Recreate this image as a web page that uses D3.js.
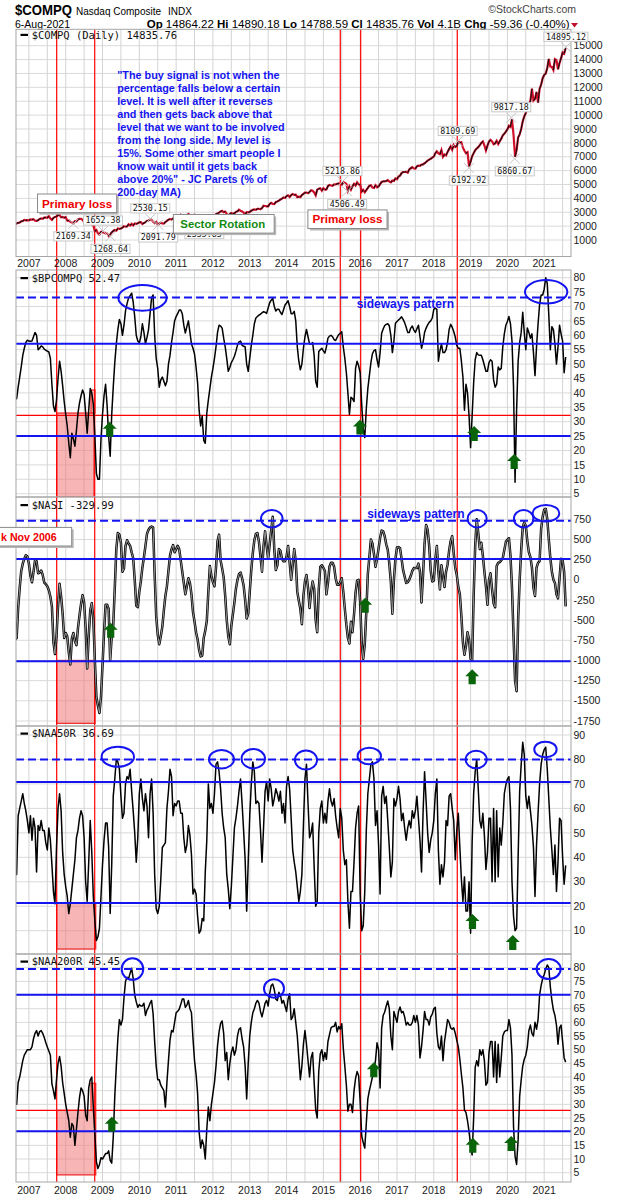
<!DOCTYPE html>
<html>
<head>
<meta charset="utf-8">
<title>$COMPQ Nasdaq Composite breadth</title>
<script src="https://cdn.jsdelivr.net/npm/d3@7"></script>
<style>
  body { margin: 0; background: #fff; }
  svg { display: block; }
</style>
</head>
<body>
<div id="chart"></div>
<script>
// One value every half month: first point 16 Aug 2006, last point 1 Aug 2021 (= 6 Aug close)
const firstYear = 2006.625
const stepsPerYear = 24

const compq = [
  2150,2185,2235,2260,2345,2365,2445,2415,2430,
  2415,2480,2470,2495,2390,2380,2420,2520,2550,2530,2615,2625,2605,2710,2550,2450,2600,2650,2700,2780,2800,2640,2660,2600,
  2650,2400,2410,2320,2270,2200,2360,2350,2480,2530,2520,2450,2290,2240,2330,2450,2350,2100,2060,1630,1720,1480,1400,1590,
  1600,1530,1480,1470,1290,1400,1550,1650,1720,1680,1830,1800,1830,1890,1990,1960,1970,2130,2050,2160,2050,2190,2160,2210,
  2270,2290,2150,2230,2270,2380,2400,2480,2460,2320,2220,2300,2100,2180,2250,2200,2180,2300,2380,2470,2510,2470,2550,2640,
  2650,2760,2750,2830,2740,2620,2790,2760,2870,2790,2770,2630,2820,2780,2740,2530,2550,2620,2420,2670,2600,2590,2620,2550,
  2610,2720,2860,2920,2970,3060,3100,3000,3050,2880,2750,2870,2950,2900,2920,3030,3070,3180,3110,3060,2980,2840,3010,2990,
  3020,3110,3180,3200,3170,3250,3250,3220,3300,3470,3450,3420,3420,3600,3680,3600,3590,3740,3780,3840,3920,3980,4060,4030,
  4160,4220,4100,4240,4310,4250,4270,4090,4120,4090,4240,4320,4410,4420,4370,4460,4580,4550,4430,4220,4630,4690,4730,4550,
  4730,4630,4640,4890,4960,4930,4900,5010,5000,5050,5080,5030,4990,5160,5130,5050,4550,4860,4630,4870,5050,4930,5150,5000,
  5000,4490,4610,4440,4600,4760,4910,4940,4780,4750,4950,4800,4860,5030,5180,5230,5230,5250,5310,5210,5150,5280,5250,5440,
  5380,5570,5640,5820,5900,5900,5910,5850,6090,6170,6250,6150,6140,6310,6360,6340,6430,6450,6530,6620,6720,6790,6850,6940,
  7010,7250,7390,7240,7180,7480,7000,7160,7100,7350,7550,7750,7510,7850,7700,7770,8100,8010,8040,7650,7430,7250,7330,6300,
  6640,7030,7260,7470,7590,7690,7830,8000,8100,7820,7450,7800,8090,8220,8110,7900,7960,8150,7910,8120,8300,8540,8660,8810,
  8970,9230,9150,9700,8570,7000,7480,8390,8610,9000,9550,9900,10150,10550,10750,11020,11900,11050,11170,11670,10900,11900,12200,12660,
  12890,12990,13400,14050,13500,13470,13250,14030,13960,13300,13750,14100,14520,14430,14836
]

const bpcompq = [
  38,38,42,45.5,49,53,55.5,57.5,58.3,58,57.9,58,59.5,61,60,55,55.5,56.3,56,55.2,54.8,54.5,54.2,52,
  43,35.5,33.5,37.5,45,51,47.5,42.5,37,32.5,28.5,22.5,17.5,26,24,21.5,27,33,36.5,39,41,39.5,33,26,
  34,41.5,40,36,25,12,10,10,24,32.5,39,43,35.5,25,18,32.5,42,50.5,57,62,65.5,64,60,63.5,
  68.5,71,73,73.8,74.6,71.5,66.5,60,58,57.4,59.5,64,61,57,59.3,62,67.5,73,74,60,52,48.5,42,44.5,
  45.5,44,42.5,44,50,53,57.5,61,65,66.5,67.5,68.8,68.8,67.5,63.5,60.8,63,65,61,57,55.5,53.5,49,43.5,
  34,28.5,32,23.5,22.5,33,37.5,41.5,45.5,48.5,52,56,61,63.5,63.2,62.5,59,56,52,47.5,48.8,50.5,51.5,52.7,
  54.5,56.6,57.7,58,56.5,56.2,56,50,47.5,52,56.5,60,64,66,66.5,67,67.3,67.8,68.2,68,67.6,69.5,71.3,72.2,
  72.8,70,68.4,69,69,68,67.2,68.8,70.5,71.2,72,70,67.5,67.5,68.3,65,56,51,48,50,55.5,59.5,62,59.5,
  57,57,57.5,53,44,42,54.4,55,55.5,54.6,53.8,56,59,59.7,60,59.5,58.5,58.2,59.3,60.2,60.7,61.2,56,52,
  47,40,32.5,38.5,38,37,48.5,51,49.4,47,36,27.5,24.5,34.5,41.5,46,50.5,53.6,54.7,55,51.5,49,54,60.7,
  62.2,63.4,63.8,64,63.3,60,54,58,64.2,64.8,65.3,65.8,66.4,65.5,64.4,62.8,61,61,62.5,63.2,61.8,61,62.3,63.5,
  59.5,55.5,57.5,61,62.5,63.6,64.5,65,66,69,69.4,69,51,54.5,57,54,54,55,57.5,62,63.8,62.8,61.3,59.4,
  56.5,55.5,55.5,51,45.5,34,43,40,32,21,32,43.5,51.5,54,53.2,53.1,53.1,51.5,49.5,47.5,47.5,50.5,51.5,51,
  44.5,42,43,49,48,48.5,56,60.5,63.5,64.8,66.5,64,58,42,9,34,51,57.5,61,68,61,55,62.5,61,
  59,60.5,54,46,56,64,70.7,74,74,76,80,78,67,55,63,62,57,50,56,63.5,60.5,58,47,52.47
]

const nasi = [
  -740,-723,-350,-100,110,200,260,305,290,200,50,-30,100,240,230,80,90,115,60,-35,-55,-80,-130,-210,
  -330,-770,-920,-700,-330,-50,-210,-420,-720,-660,-700,-900,-1050,-730,-660,-760,-810,-600,-440,-300,-190,-280,-600,-1100,
  -700,-380,-290,-480,-1000,-1450,-1560,-1650,-1450,-1060,-650,-310,-310,-360,-1000,-700,-560,-100,380,580,560,460,100,140,
  420,490,450,420,340,270,0,-320,-340,-150,-20,150,280,420,570,620,650,660,650,60,-450,-680,-800,-700,
  -580,-380,-200,-80,110,300,380,430,340,380,420,380,240,100,-40,-180,-80,20,-40,-180,-400,-520,-650,-740,
  -870,-950,-940,-720,-630,-510,-150,170,50,-30,-80,150,480,560,240,140,30,-200,-500,-700,-800,-570,-430,-280,
  -110,0,70,90,20,-70,-250,-480,-420,-150,120,330,490,570,580,470,290,100,420,600,420,260,440,620,
  780,380,120,180,380,360,260,230,230,290,420,220,0,180,380,230,-150,-260,-360,-550,-200,-20,60,-100,
  -350,-150,-20,-110,-500,-650,-120,160,180,150,110,-180,-40,165,210,210,165,20,-62,-62,-30,20,-150,-360,
  -560,-720,-790,-520,-650,-430,-160,-10,0,-280,-780,-980,-800,-400,70,280,500,450,320,160,260,390,520,610,
  600,540,440,370,200,-20,-420,0,260,400,405,392,260,120,40,-40,-30,0,50,110,145,145,145,200,
  100,-280,60,450,680,620,420,110,-20,-10,250,420,100,-120,180,50,-90,100,190,360,480,540,330,150,
  60,-90,-180,-450,-780,-930,-820,-650,-740,-980,-1000,-200,420,750,580,380,460,300,100,-80,-310,0,80,-120,
  -290,-340,170,210,220,240,270,370,470,495,515,300,-100,-690,-1250,-1380,-500,0,370,650,710,670,480,340,
  280,150,-100,-200,150,210,230,630,780,870,880,750,500,270,100,0,-40,-180,-230,20,260,240,100,-329.99
]

const naa50r = [
  33,33,57,60,63,66,62,59,55,50,57,47,56,52,34,53,51,55,51,51,46,43,52,47,
  37,26,21,44,60,66,59,42,33,28,24,17,21,27,33,39,48,51,56,59,57,48,30,22,
  38,55,42,24,14,6,7.5,11,24,37,47,54,54,44,17,37,65,72,80,79,76,65,56,58,
  70,73,72,76,67,59,50,38,48,66,72,64,59,66,61,48,66,72,58,33,19,17,20,31,
  44,45,46,60,67,76,73,57,62,61,63,63,58,58,48,42,45,53,49,41,25,27,25,16,
  9,10,15,14,34,47,70,60,62,58,66,78,79,75,68,58,52,48,33,27,19,28,40,52,
  56,61,67,72,62,51,39,18,38,57,70,79,75,62,63,62,51,38,52,67,71,63,72,68,
  61,64,68,66,63,67,58,62,54,69,73,68,56,43,38,34,28,22,26,33,53,72,78,62,
  48,50,54,36,20,22,50,60,63,54,58,54,63,68,63,61,64,57,52,48,60,56,43,37,
  39,22,11,26,26,38,52,58,61,25,10,12,26,51,66,72,78,79,72,53,59,45,25,65,
  69,62,65,55,44,32,38,64,61,64,69,64,55,58,52,47,52,55,52,59,56,59,65,56,
  47,34,58,75,63,50,42,47,50,55,66,72,43,29,37,32,38,55,53,65,66,60,55,39,
  51,58,44,31,22,32,18,18,30,9,46,66,75,80,68,55,52,58,49,35,42,56,56,30,
  60,30,59,32,52,45,54,66,69.6,72,73,60,30,16,10,11,40,67,78,87,82,65,60,65,
  59,53,44,24,45,58,70,78,82,84,85,76,64,52,43,33,45,26,38,56,55,40,29,36.69
]

const naa200r = [
  30,30,38,40,43,46,48,49,50,50,50,51,54,56,57,55,56.6,57,56,54.5,52.6,51,49.5,48,
  37.5,35,32,39,45,47.5,44,38,34,30,27,24,18,23,22,15,21,27,32.5,36,35,33,26,24,
  36,39,40,29,19,9,6.5,8,10.5,10,11,12,12,13,9.5,8.5,18,33,44,54,61,59,61,69,
  75,76.5,76,78,79.8,76,70,67.5,65.5,66.5,66,66,67,62.5,64.5,65.5,67,68,63,53,44,39,39,37,
  36,35,29,38,46,53.5,57,56.5,60,63.5,64,64.8,66.5,68.5,68.5,65.5,66.3,68,65,63.5,54,46,41,34,
  20,14,17,15,10,21,29,24,30,34,38,44,51.5,56.5,59.6,60.5,56,46,49,39,45,49,51,48,
  50,55,57.5,58,54,51,44,32,45,55,60,63.5,65,67,68,67,64,62,64.5,67,68,66,70.5,73.5,
  74,72,68.5,68,71,70,67,68,66,64,68.5,70.5,61,62,65,60,55,47,39,44,52,57,52,46,
  40,47,49,38,28,25,42,48.5,50,46,49,46.5,53,55.5,58,58.5,58.5,60,56.5,58.5,57.5,59.5,50.5,44,
  37,27.5,30,30,27,35,39.5,42,40.5,31,18.5,16,14,23,32,35,37.5,40,43,46,52.5,50,36,58,
  62.5,63.8,66,67.8,65,55,50,64,62,60,64,65.6,63.5,64,62,59,60,59,59,60,62.5,60,62.5,59,
  47,51,57,64,61,61,59,62,63,65,65.5,56,51,50,55,46,53,57,61,60,58,57.5,58,56,
  53.5,51,46.5,41,36,28,27,24,20,15,11.5,25,43.5,46,44,50,48,50,46,37,38,49,53,53,
  40,53,38,52,40,47,55,56.5,57,57,61,58,48,22,11,8,17,33,39,44,46.5,48,51,57,
  59,56,55,60,57.5,61,70,73.5,76,77.5,79.5,81,80,73,68,64.5,62.5,59,52,58,59,53,47,45.45
]

// Axes
const yearLabels = d3.range(2007, 2022)
const compqTicks = d3.range(1000, 15001, 1000)
const bpTicks = d3.range(5, 81, 5)
const nasiTicks = d3.range(-1750, 751, 250)
const naa50Ticks = d3.range(10, 91, 10)
const naa200Ticks = d3.range(5, 81, 5)

// Horizontal reference levels
const bpLevels = {dashed: [73.1], solid: [57.1, 25], red: [32.2]}
const nasiLevels = {dashed: [733], solid: [258, -1010], red: []}
const naa50Levels = {dashed: [80], solid: [70.8, 21.3], red: []}
const naa200Levels = {dashed: [79.5], solid: [70.1, 20.2], red: [27.8]}

// Vertical red lines (decimal years)
const markerYears = [2007.755, 2008.788, 2015.46, 2016.014, 2018.638]

// Shaded 2008 zones: [fromYear, toYear, fromValue, toValue]
const bpZones = [[2007.755, 2008.769, 3.85, 33], [2008.687, 2008.796, 33, 41]]
const nasiZones = [[2007.755, 2008.796, -1779, -1000]]
const naa50Zones = [[2007.755, 2008.815, 2.5, 21.3]]
const naa200Zones = [[2007.755, 2008.815, 4.2, 27.8], [2008.687, 2008.815, 27.8, 37.7]]

// Circled tops: [year, value, half width in years, half height in value units]
const bpRings = [[2010.086, 73.0, 0.657, 4.44], [2021.053, 75.1, 0.576, 4.06]]
const nasiRings = [[2013.599, 757, 0.293, 108], [2019.179, 757, 0.258, 108], [2020.442, 757, 0.264, 108], [2021.048, 824, 0.361, 103]]
const naa50Rings = [[2009.415, 81.1, 0.44, 4.09], [2012.232, 80.1, 0.34, 3.76], [2013.096, 80.3, 0.318, 3.97], [2014.528, 79.8, 0.30, 3.9],
  [2016.248, 81.4, 0.318, 3.39], [2019.152, 80.0, 0.285, 3.6], [2021.034, 84.1, 0.304, 3.19]]
const naa200Rings = [[2009.814, 79.5, 0.293, 3.95], [2013.659, 72.4, 0.272, 3.37], [2021.121, 79.5, 0.326, 3.66]]

// Green buy arrows: [year, value at the arrow tip]
const bpArrows = [[2009.195, 30.0], [2015.995, 30.8], [2019.097, 28.5], [2020.184, 18.8]]
const nasiArrows = [[2009.222, -532], [2016.136, -222], [2019.043, -1109]]
const naa50Arrows = [[2019.051, 16.8], [2020.146, 8.2]]
const naa200Arrows = [[2009.252, 25.5], [2016.37, 45.4], [2019.059, 17.8], [2020.102, 18.4]]

// Price highs / lows labelled on the $COMPQ panel
const compqMarks = [
  {year: 2008.206, value: 2169.34, low: true},
  {year: 2009.013, value: 1652.38, low: false},
  {year: 2009.217, value: 1268.64, low: true},
  {year: 2010.298, value: 2530.15, low: false},
  {year: 2010.515, value: 2091.79, low: true},
  {year: 2011.765, value: 2335.83, low: true},
  {year: 2015.519, value: 5218.86, low: false},
  {year: 2015.647, value: 4506.49, low: true},
  {year: 2018.649, value: 8109.69, low: false},
  {year: 2018.951, value: 6192.92, low: true},
  {year: 2020.105, value: 9817.18, low: false},
  {year: 2020.2, value: 6860.67, low: true},
  {year: 2021.59, value: 14895.12, low: false}
]

const quoteLines = [
  '"The buy signal is not when the',
  'percentage falls below a certain',
  'level. It is well after it reverses',
  'and then gets back above that',
  'level that we want to be involved',
  'from the long side. My level is',
  '15%. Some other smart people I',
  'know wait until it gets back',
  'above 20%" - JC Parets (% of',
  '200-day MA)'
]

const SANS = '"Liberation Sans", Arial, Helvetica, sans-serif'
const MONO = '"DejaVu Sans Mono", "Liberation Mono", monospace'
const BLUE = '#1414f0'
const RED = '#ff0000'
const GREEN = '#0a640a'

const left = 16, right = 571
const svg = d3.select('#chart').append('svg').attr('width', 620).attr('height', 1200)
const x = d3.scaleLinear().domain([2007, 2021]).range([28.9, 544.2])
const dates = compq.map((d, i) => firstYear + i / stepsPerYear)
const gridYears = d3.range(2007, 2021.6, 0.5)

const panels = [
  {values: compq, legend: '$COMPQ (Daily) 14835.76', domain: [-188, 16182], ticks: compqTicks, top: 29.3, bottom: 256.5, legendDy: 5.5},
  {values: bpcompq, legend: '$BPCOMPQ 52.47', domain: [3.85, 82.67], ticks: bpTicks, top: 270, bottom: 497, legendDy: 8,
    levels: bpLevels, zones: bpZones, rings: bpRings, arrows: bpArrows},
  {values: nasi, legend: '$NASI -329.99', domain: [-1812, 1026], ticks: nasiTicks, top: 497, bottom: 726, legendDy: 8,
    levels: nasiLevels, zones: nasiZones, rings: nasiRings, arrows: nasiArrows, thick: true},
  {values: naa50r, legend: '$NAA50R 36.69', domain: [0.47, 93.68], ticks: naa50Ticks, top: 726, bottom: 954, legendDy: 7.5,
    levels: naa50Levels, zones: naa50Zones, rings: naa50Rings, arrows: naa50Arrows},
  {values: naa200r, legend: '$NAA200R 45.45', domain: [1.59, 85.01], ticks: naa200Ticks, top: 954, bottom: 1182, legendDy: 7.5,
    levels: naa200Levels, zones: naa200Zones, rings: naa200Rings, arrows: naa200Arrows}
]

// ---- header ----
svg.append('text').attr('x', 15).attr('y', 15)
  .attr('textLength', 57).attr('lengthAdjust', 'spacingAndGlyphs')
  .style('font-family', SANS).style('font-weight', 'bold').style('font-size', '15.5px')
  .text('$COMPQ')
svg.append('text').attr('x', 76).attr('y', 14.5)
  .style('font-family', SANS).style('font-size', '10px')
  .text('Nasdaq Composite')
svg.append('text').attr('x', 168).attr('y', 14.5)
  .style('font-family', SANS).style('font-size', '10px')
  .text('INDX')
svg.append('text').attr('x', 576).attr('y', 13).attr('text-anchor', 'end')
  .style('font-family', SANS).style('font-size', '10.5px').style('fill', '#444')
  .text('\u00a9StockCharts.com')
svg.append('text').attr('x', 15).attr('y', 28)
  .attr('textLength', 55).attr('lengthAdjust', 'spacingAndGlyphs')
  .style('font-family', SANS).style('font-size', '11px')
  .text('6-Aug-2021')

const quote = [['Op', '14864.22'], ['Hi', '14890.18'], ['Lo', '14788.59'], ['Cl', '14835.76'], ['Vol', '4.1B'], ['Chg', '-59.36 (-0.40%)']]
const ohlc = svg.append('text').attr('x', 146.7).attr('y', 28)
  .attr('textLength', 423).attr('lengthAdjust', 'spacingAndGlyphs')
  .style('font-family', SANS).style('font-size', '11.5px')
quote.forEach((q, i) => {
  ohlc.append('tspan').style('font-weight', 'bold').text((i ? ' ' : '') + q[0])
  ohlc.append('tspan').text(' ' + q[1])
})
svg.append('path').attr('d', 'M571,23 L578,23 L574.5,27.5 Z').attr('fill', '#c0102a')

// ---- panels ----
panels.forEach((p, k) => {
  const y = d3.scaleLinear().domain(p.domain).range([p.bottom, p.top])
  p.y = y
  const g = svg.append('g')
  svg.append('clipPath').attr('id', 'clip' + k).append('rect')
    .attr('x', left).attr('y', p.top).attr('width', right - left).attr('height', p.bottom - p.top)
  const plot = g.append('g').attr('clip-path', `url(#clip${k})`)

  plot.selectAll('line.hgrid').data(p.ticks).join('line').attr('class', 'hgrid')
    .attr('x1', left).attr('x2', right).attr('y1', d => y(d)).attr('y2', d => y(d))
    .attr('stroke', '#dadada').attr('stroke-width', 1)
  plot.selectAll('line.vgrid').data(gridYears).join('line').attr('class', 'vgrid')
    .attr('x1', d => x(d)).attr('x2', d => x(d)).attr('y1', p.top).attr('y2', p.bottom)
    .attr('stroke', '#d4d4d4').attr('stroke-width', 1)

  plot.selectAll('rect.zone').data(p.zones || []).join('rect').attr('class', 'zone')
    .attr('x', d => x(d[0])).attr('width', d => x(d[1]) - x(d[0]))
    .attr('y', d => y(d[3])).attr('height', d => y(d[2]) - y(d[3]))
    .attr('fill', '#f07878').attr('fill-opacity', 0.55)
    .attr('stroke', '#ee3030').attr('stroke-width', 1.3)

  plot.selectAll('line.marker').data(markerYears).join('line').attr('class', 'marker')
    .attr('x1', d => x(d)).attr('x2', d => x(d)).attr('y1', p.top).attr('y2', p.bottom)
    .attr('stroke', RED).attr('stroke-width', 1.2)

  if (p.levels) {
    plot.selectAll('line.red').data(p.levels.red).join('line').attr('class', 'red')
      .attr('x1', left).attr('x2', right).attr('y1', d => y(d)).attr('y2', d => y(d))
      .attr('stroke', RED).attr('stroke-width', 1.2)
  }

  const line = d3.line().x((d, i) => x(dates[i])).y(d => y(d))
  if (k === 0) {
    // price: red base with black on rising stretches
    const pts = p.values.map((v, i) => ({t: dates[i], v}))
    plot.append('path').datum(p.values).attr('d', line)
      .attr('fill', 'none').attr('stroke', '#d0102a').attr('stroke-width', 2.2)
    plot.selectAll('line.up').data(d3.pairs(pts).filter(d => d[1].v >= d[0].v)).join('line').attr('class', 'up')
      .attr('x1', d => x(d[0].t)).attr('y1', d => y(d[0].v))
      .attr('x2', d => x(d[1].t)).attr('y2', d => y(d[1].v))
      .attr('stroke', '#111').attr('stroke-width', 1.1)
  } else if (p.thick) {
    plot.append('path').datum(p.values).attr('d', line)
      .attr('fill', 'none').attr('stroke', '#000').attr('stroke-width', 2.5).attr('stroke-linejoin', 'round')
    plot.append('path').datum(p.values).attr('d', line)
      .attr('fill', 'none').attr('stroke', '#b4b4b4').attr('stroke-width', 0.8).attr('stroke-linejoin', 'round')
  } else {
    plot.append('path').datum(p.values).attr('d', line)
      .attr('fill', 'none').attr('stroke', '#000').attr('stroke-width', 1.5).attr('stroke-linejoin', 'round')
  }

  if (p.levels) {
    plot.selectAll('line.dashed').data(p.levels.dashed).join('line').attr('class', 'dashed')
      .attr('x1', left).attr('x2', right).attr('y1', d => y(d)).attr('y2', d => y(d))
      .attr('stroke', BLUE).attr('stroke-width', 2).attr('stroke-dasharray', '8,4')
    plot.selectAll('line.solid').data(p.levels.solid).join('line').attr('class', 'solid')
      .attr('x1', left).attr('x2', right).attr('y1', d => y(d)).attr('y2', d => y(d))
      .attr('stroke', BLUE).attr('stroke-width', 2)
  }

  plot.selectAll('ellipse.ring').data(p.rings || []).join('ellipse').attr('class', 'ring')
    .attr('cx', d => x(d[0])).attr('cy', d => y(d[1]))
    .attr('rx', d => x(d[0] + d[2]) - x(d[0])).attr('ry', d => y(d[1] - d[3]) - y(d[1]))
    .attr('fill', 'none').attr('stroke', BLUE).attr('stroke-width', 2)

  plot.selectAll('path.arrow').data(p.arrows || []).join('path').attr('class', 'arrow')
    .attr('d', d => {
      const cx = x(d[0]), ty = y(d[1])
      return `M${cx},${ty} L${cx + 7},${ty + 7} L${cx + 3.6},${ty + 7} L${cx + 3.6},${ty + 15} ` +
        `L${cx - 3.6},${ty + 15} L${cx - 3.6},${ty + 7} L${cx - 7},${ty + 7} Z`
    })
    .attr('fill', GREEN)

  g.append('rect').attr('x', left).attr('y', p.top).attr('width', right - left).attr('height', p.bottom - p.top)
    .attr('fill', 'none').attr('stroke', '#a6a6a6').attr('stroke-width', 1)

  g.selectAll('text.tick').data(p.ticks).join('text').attr('class', 'tick')
    .attr('x', 573.5).attr('y', d => y(d)).attr('dy', '0.35em')
    .style('font-family', SANS).style('font-size', '10.5px').style('fill', '#1a1a1a')
    .text(d => d)

  const ly = p.top + p.legendDy
  g.append('rect').attr('x', 20.5).attr('y', ly - 1).attr('width', 7.5).attr('height', 2.2).attr('fill', '#000')
  g.append('text').attr('x', 31.7).attr('y', ly).attr('dy', '0.36em')
    .style('font-family', MONO).style('font-size', '10.5px').style('fill', '#111')
    .text(p.legend)
})

// red markers across the date band under the price panel
svg.selectAll('line.band').data(markerYears).join('line').attr('class', 'band')
  .attr('x1', d => x(d)).attr('x2', d => x(d)).attr('y1', panels[0].bottom).attr('y2', panels[1].top)
  .attr('stroke', RED).attr('stroke-width', 1.2)

// year labels
;[263, 1190].forEach(cy => {
  svg.append('g').selectAll('text').data(yearLabels).join('text')
    .attr('x', d => x(d)).attr('y', cy).attr('dy', '0.35em').attr('text-anchor', 'middle')
    .style('font-family', SANS).style('font-size', '10.5px').style('fill', '#1a1a1a')
    .text(d => d)
})

// ---- annotations on the price panel ----
const py = panels[0].y
const marks = svg.append('g')
compqMarks.forEach(m => {
  const cx = x(m.year), cy = py(m.value)
  const grp = marks.append('g')
  grp.append('path')
    .attr('d', `M${cx - 5},${cy - 5} L${cx + 5},${cy + 5} M${cx + 5},${cy - 5} L${cx - 5},${cy + 5}`)
    .attr('stroke', '#c4c4c4').attr('stroke-width', 1)
  const box = grp.append('rect')
  const t = grp.append('text').attr('x', cx).attr('text-anchor', 'middle')
    .style('font-family', MONO).style('font-size', '8.3px').style('fill', '#111')
    .text(m.value.toFixed(2))
  const top = m.low ? cy + 8 : cy - 15
  t.attr('y', top + 4.5).attr('dy', '0.35em')
  const w = t.node().getComputedTextLength() + 4
  box.attr('x', cx - w / 2).attr('y', top).attr('width', w).attr('height', 9.2)
    .attr('fill', '#fff').attr('stroke', '#c8c8c8').attr('stroke-width', 1)
})

function callout(cx, cy, text, color, size, padL, padR, startX, fitWidth) {
  const grp = svg.append('g')
  const shadow = grp.append('rect')
  const box = grp.append('rect')
  const t = grp.append('text').attr('y', cy).attr('dy', '0.36em')
    .style('font-family', SANS).style('font-weight', 'bold').style('font-size', size + 'px').style('fill', color)
    .text(text)
  if (startX !== undefined) {
    t.attr('x', startX).attr('textLength', fitWidth).attr('lengthAdjust', 'spacingAndGlyphs')
  } else {
    t.attr('x', cx).attr('text-anchor', 'middle')
  }
  const w = startX !== undefined ? fitWidth : t.node().getComputedTextLength()
  const x0 = (startX !== undefined ? startX : cx - w / 2) - padL
  const bw = w + padL + padR
  shadow.attr('x', x0 + 2).attr('y', cy - 9.3 + 2).attr('width', bw).attr('height', 18.6).attr('fill', '#b8b8b8')
  box.attr('x', x0).attr('y', cy - 9.3).attr('width', bw).attr('height', 18.6)
    .attr('fill', '#fff').attr('stroke', '#8a8a8a').attr('stroke-width', 1)
}

callout(x(2008.31), py(3645), 'Primary loss', '#ee0000', 11.7, 4.5, 4.5)
callout(x(2015.655), py(2499), 'Primary loss', '#ee0000', 11.7, 4.5, 4.5)
callout(x(2012.267), py(2168), 'Sector Rotation', '#128a12', 11.4, 7, 9)
// box runs off the left edge of the picture, as in the original
callout(0, panels[2].y(534), 'k Nov 2006', '#ee0000', 11.7, 20, 15, 1, x(2007.755) - 1)

// quote
svg.append('g').selectAll('text').data(quoteLines).join('text')
  .attr('x', x(2009.40)).attr('y', (d, i) => py(12889) + i * 13).attr('dy', '0.36em')
  .style('font-family', SANS).style('font-weight', 'bold').style('font-size', '10.8px').style('fill', BLUE)
  .text(d => d)

// "sideways pattern" notes
svg.append('text').attr('x', x(2015.905)).attr('y', panels[1].y(71.1)).attr('dy', '0.36em')
  .style('font-family', SANS).style('font-weight', 'bold').style('font-size', '12px').style('fill', BLUE)
  .text('sideways pattern')
svg.append('text').attr('x', x(2016.19)).attr('y', panels[2].y(824)).attr('dy', '0.36em')
  .style('font-family', SANS).style('font-weight', 'bold').style('font-size', '12px').style('fill', BLUE)
  .text('sideways pattern')
</script>
</body>
</html>
